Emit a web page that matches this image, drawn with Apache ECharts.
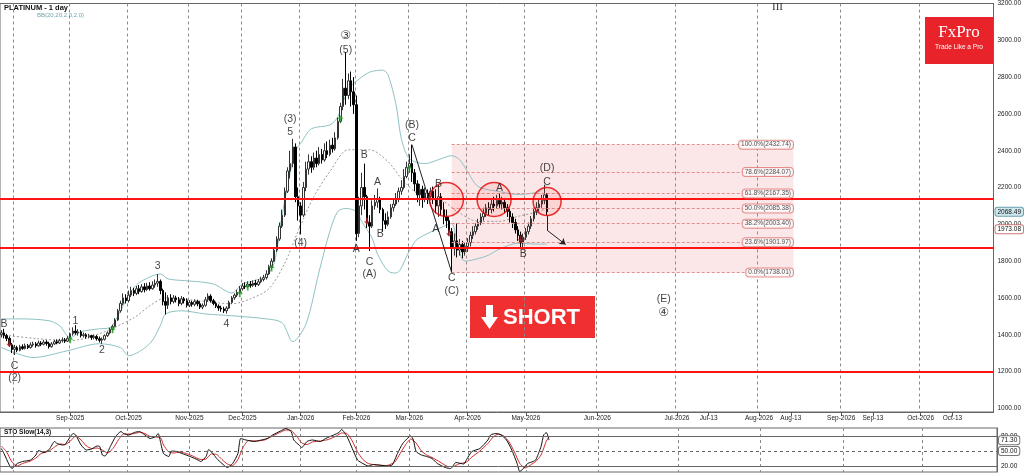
<!DOCTYPE html>
<html><head><meta charset="utf-8">
<script src="https://cdn.jsdelivr.net/npm/echarts@6/dist/echarts.min.js"></script>
<style>html,body{margin:0;padding:0;background:#fff}#c{width:1024px;height:474px}</style>
</head><body><div id="c"></div><script>
// ---------- calendar ----------
const firstBarDate = '2025-07-25', lastBarDate = '2026-05-13', axisEndDate = '2026-10-28';
const holidays = ['2025-12-25', '2026-01-01'];
const gridDates = ['2025-08-01','2025-09-01','2025-10-01','2025-11-03','2025-12-01','2026-01-02','2026-02-02','2026-03-02','2026-04-01','2026-05-01','2026-06-01','2026-07-01','2026-08-01','2026-09-01','2026-10-01'];
const tickDates = ['2025-09-01','2025-10-01','2025-11-03','2025-12-01','2026-01-02','2026-02-02','2026-03-02','2026-04-01','2026-05-01','2026-06-01','2026-07-01','2026-07-13','2026-08-01','2026-08-13','2026-09-01','2026-09-13','2026-10-01','2026-10-13'];
const tickLabels = ['Sep-2025','Oct-2025','Nov-2025','Dec-2025','Jan-2026','Feb-2026','Mar-2026','Apr-2026','May-2026','Jun-2026','Jul-2026','Jul-13','Aug-2026','Aug-13','Sep-2026','Sep-13','Oct-2026','Oct-13'];

// ---------- price bars [open, close, low, high] ----------
const ohlc = [
[1400,1410,1385,1425],[1410,1395,1380,1432],[1395,1380,1365,1405],[1380,1345,1335,1390],[1345,1320,1300,1355],
[1320,1330,1290,1345],[1330,1315,1305,1340],[1315,1335,1310,1345],[1335,1325,1318,1348],[1325,1340,1320,1352],
[1340,1330,1322,1350],[1330,1345,1325,1358],[1345,1350,1335,1362],[1350,1340,1330,1360],[1340,1355,1335,1368],
[1355,1348,1338,1365],[1348,1360,1342,1372],[1360,1352,1340,1370],[1352,1335,1325,1362],[1335,1350,1330,1360],
[1350,1362,1345,1372],[1362,1355,1348,1375],[1355,1368,1350,1378],[1368,1372,1358,1385],[1372,1365,1355,1382],
[1365,1380,1360,1392],[1380,1405,1375,1412],[1405,1420,1395,1440],[1420,1410,1400,1452],[1410,1415,1395,1430],
[1415,1395,1385,1425],[1395,1400,1385,1412],[1400,1390,1378,1408],[1390,1395,1380,1405],[1395,1385,1372,1400],
[1385,1390,1375,1402],[1390,1378,1368,1398],[1378,1370,1358,1390],[1370,1375,1350,1385],[1375,1395,1368,1402],
[1395,1410,1388,1418],[1410,1430,1402,1438],[1430,1445,1420,1455],[1445,1480,1440,1490],[1480,1530,1475,1540],
[1530,1570,1520,1585],[1570,1600,1560,1625],[1600,1585,1570,1620],[1585,1615,1575,1640],[1615,1640,1605,1660],
[1640,1625,1610,1655],[1625,1650,1615,1665],[1650,1635,1620,1670],[1635,1660,1628,1675],[1660,1645,1630,1680],
[1645,1665,1638,1682],[1665,1650,1640,1685],[1650,1670,1645,1690],[1670,1680,1655,1700],[1680,1690,1660,1730],
[1690,1640,1620,1700],[1640,1580,1560,1650],[1580,1560,1510,1630],[1560,1600,1540,1615],[1600,1580,1565,1620],
[1580,1600,1570,1615],[1600,1590,1575,1612],[1590,1570,1555,1605],[1570,1595,1560,1610],[1595,1585,1570,1605],
[1585,1560,1548,1598],[1560,1575,1550,1588],[1575,1565,1552,1585],[1565,1580,1555,1592],[1580,1568,1555,1590],
[1568,1550,1540,1582],[1550,1560,1538,1570],[1560,1590,1552,1605],[1590,1610,1580,1625],[1610,1585,1575,1620],
[1585,1570,1560,1595],[1570,1555,1545,1580],[1555,1545,1530,1565],[1545,1540,1525,1558],[1540,1530,1518,1552],
[1530,1545,1515,1555],[1545,1575,1540,1585],[1575,1600,1568,1610],[1600,1615,1590,1625],[1615,1630,1605,1645],
[1630,1650,1620,1665],[1650,1665,1640,1680],[1665,1660,1648,1685],[1660,1675,1655,1690],[1675,1668,1655,1692],
[1668,1680,1660,1695],[1680,1672,1660,1698],[1672,1688,1665,1702],[1688,1700,1680,1715],[1700,1710,1690,1725],
[1710,1730,1700,1750],[1730,1770,1725,1780],[1770,1800,1755,1815],[1800,1860,1795,1875],[1860,1920,1850,1935],
[1920,1990,1910,2010],[1990,2050,1980,2080],[2050,2180,2040,2200],[2180,2290,2170,2310],[2290,2330,2250,2400],
[2330,2420,2310,2465],[2420,2150,2120,2440],[2150,2100,2020,2200],[2100,2050,1945,2120],[2050,2200,2040,2230],
[2200,2300,2180,2340],[2300,2340,2270,2380],[2340,2310,2280,2370],[2310,2360,2295,2390],[2360,2330,2310,2400],
[2330,2380,2320,2420],[2380,2350,2330,2410],[2350,2400,2340,2440],[2400,2380,2360,2450],[2380,2430,2370,2460],
[2430,2410,2390,2470],[2410,2470,2400,2500],[2470,2560,2460,2580],[2560,2640,2550,2660],[2640,2740,2620,2790],
[2740,2700,2650,2935],[2700,2780,2680,2820],[2780,2720,2640,2830],[2720,2650,2600,2800],[2650,1950,1910,2700],
[1950,2100,1930,2150],[2100,2200,2050,2280],[2200,2150,2080,2330],[2150,2010,1980,2160],[2010,1990,1855,2050],
[1990,2100,1980,2130],[2100,2120,2080,2160],[2120,2140,2090,2195],[2140,2080,2060,2150],[2080,2020,1960,2090],
[2020,2000,1975,2060],[2000,2040,1990,2070],[2040,2090,2030,2110],[2090,2110,2070,2140],[2110,2140,2100,2170],
[2140,2180,2120,2200],[2180,2200,2160,2240],[2200,2260,2190,2300],[2260,2310,2250,2340],[2310,2330,2280,2380],
[2330,2280,2230,2432.74],[2280,2220,2180,2300],[2220,2160,2120,2240],[2160,2190,2100,2220],[2190,2140,2090,2210],
[2140,2170,2120,2200],[2170,2150,2110,2190],[2150,2180,2130,2200],[2180,2140,2110,2205],[2140,2100,2060,2190],
[2100,2150,2040,2215],[2150,2080,2050,2170],[2080,2040,2000,2120],[2040,2020,1980,2080],[2020,1960,1940,2040],
[1960,1870,1738.01,1980],[1870,1910,1830,1950],[1910,1860,1820,2005],[1860,1890,1830,1920],[1890,1850,1815,1910],
[1850,1880,1830,1900],[1880,1900,1850,1925],[1900,1940,1880,1960],[1940,1960,1920,1990],[1960,1990,1945,2005],
[1990,2010,1970,2030],[2010,2040,1995,2060],[2040,2060,2020,2090],[2060,2090,2040,2110],[2090,2080,2050,2120],
[2080,2110,2060,2140],[2110,2100,2070,2150],[2100,2130,2085,2160],[2130,2110,2090,2170],[2110,2120,2080,2150],
[2120,2090,2060,2140],[2090,2070,2040,2110],[2070,2040,2010,2090],[2040,2010,1980,2060],[2010,1970,1950,2030],
[1970,1940,1910,1990],[1940,1900,1870,1960],[1900,1930,1870,1950],[1930,1960,1915,1980],[1960,1990,1945,2010],
[1990,2030,1975,2045],[2030,2070,2015,2090],[2070,2090,2050,2120],[2090,2110,2070,2140],[2110,2130,2090,2160],
[2130,2160,2110,2215],[2160,2068.49,2050,2170]
];

// ---------- Bollinger bands [barIndex, value] ----------
const bbUpper = [[0,1486],[7,1486],[18,1476],[22,1449],[26,1384],[30,1416],[37,1432],[41,1438],[43,1476],[47,1584],[50,1654],[53,1692],[60,1730],[63,1703],[71,1692],[80,1676],[87,1627],[91,1676],[95,1692],[100,1719],[103,1789],[106,2050],[109,2280],[111,2400],[113,2440],[117,2519],[124,2540],[127,2584],[131,2735],[135,2789],[139,2827],[144,2838],[146,2811],[149,2649],[151,2465],[154,2357],[160,2330],[165,2351],[170,2373],[173,2351],[176,2286],[180,2205],[188,2178],[195,2162],[203,2178],[206,2216]];
const bbMiddle = [[0,1400],[3,1395],[14,1378],[26,1368],[37,1405],[50,1492],[56,1557],[62,1600],[75,1584],[87,1568],[94,1595],[101,1650],[107,1789],[112,1962],[118,2151],[124,2286],[131,2405],[139,2405],[146,2340],[151,2249],[156,2178],[161,2140],[167,2124],[172,2070],[180,2016],[188,2016],[195,2043],[203,2070],[206,2092]];
const bbLower = [[0,1330],[6,1297],[12,1276],[25,1313],[37,1351],[45,1330],[48,1286],[56,1351],[60,1449],[62,1513],[68,1530],[77,1513],[87,1503],[100,1486],[106,1465],[110,1362],[115,1459],[120,1746],[124,1962],[127,2070],[130,2086],[134,2070],[136,2016],[140,1924],[142,1838],[146,1746],[149,1735],[154,1854],[157,1919],[167,1989],[170,2005],[172,1908],[175,1800],[183,1827],[188,1865],[195,1897],[203,1892],[206,1892]];

// ---------- Stochastic slow (14,3) [barIndex, value] ----------
const stoK = [[0,55],[1,45],[3,22],[4,15],[6,25],[8,29],[11,32],[13,42],[14,51],[16,47],[18,53],[20,69],[21,65],[23,62],[24,63],[26,79],[27,85],[28,82],[30,62],[32,52],[34,54],[36,60],[37,59],[38,42],[39,40],[41,59],[43,79],[45,89],[46,85],[48,82],[50,87],[52,89],[54,82],[56,75],[58,79],[59,85],[60,65],[61,45],[63,39],[64,50],[66,49],[68,45],[71,39],[74,32],[75,29],[77,39],[78,53],[80,42],[81,35],[83,25],[85,17],[87,25],[89,45],[90,75],[92,72],[95,69],[97,71],[100,75],[102,82],[105,90],[107,95],[109,89],[110,72],[112,62],[113,57],[115,69],[117,72],[120,69],[122,75],[125,82],[127,87],[128,93],[130,79],[132,55],[134,32],[136,25],[138,20],[140,23],[142,22],[145,20],[147,22],[149,45],[151,65],[154,80],[155,72],[156,49],[158,42],[160,39],[162,35],[164,25],[167,17],[169,15],[171,27],[174,24],[175,33],[177,49],[180,55],[183,72],[184,82],[186,85],[188,82],[190,72],[192,52],[194,25],[195,9],[196,13],[198,25],[200,29],[201,32],[203,59],[204,82],[205,87],[206,72]];
const stoD = [[0,60],[2,48],[4,28],[6,20],[8,25],[11,30],[13,36],[15,45],[18,50],[20,58],[22,64],[24,63],[26,70],[28,80],[30,72],[32,60],[34,55],[36,56],[38,52],[40,46],[42,55],[44,72],[46,84],[48,84],[50,85],[52,87],[54,85],[56,79],[58,78],[60,76],[61,62],[63,48],[65,46],[67,48],[69,46],[72,40],[75,33],[77,34],[79,44],[81,43],[83,33],[85,24],[87,21],[89,33],[91,58],[93,71],[96,70],[99,72],[101,77],[104,85],[107,92],[109,91],[111,80],[113,66],[115,63],[117,68],[120,70],[123,73],[126,80],[128,86],[130,85],[132,70],[134,48],[136,33],[138,25],[141,22],[145,21],[148,28],[150,45],[152,62],[154,74],[156,66],[158,50],[160,42],[162,37],[165,28],[168,19],[170,19],[172,24],[175,28],[177,38],[180,50],[183,65],[185,78],[187,84],[189,80],[191,68],[193,48],[195,25],[197,16],[199,22],[201,29],[203,42],[205,70],[206,78]];
const stoLevels = [80, 50, 20];
const stoCurrent = 71.30;

// ---------- annotations ----------
const waveLabels = [[1,1459,'B'],[5,1227,'C'],[5,1162,'(2)'],[28,1476,'1'],[38,1319,'2'],[59,1773,'3'],[85,1459,'4'],[113,1897,'(4)'],[109,2503,'5'],[109,2573,'(3)'],[130,2946,'(5)'],[134,1865,'A'],[137,2378,'B'],[139,1795,'C'],[139,1730,'(A)'],[142,2227,'A'],[143,1946,'B'],[155,2541,'(B)'],[155,2470,'C'],[165,2216,'B'],[164,1973,'A'],[170,1708,'C'],[170,1638,'(C)'],[188,2195,'A'],[197,1838,'B'],[206,2227,'C'],[206,2303,'(D)'],[250,1595,'(E)']];
const circledLabels = [[130,3022,'③'],[250,1519,'④']];
const buySignals = [[26,1373],[42,1427],[90,1622],[93,1659],[102,1762],[128,2573],[154,2303]];
const sellSignals = [[3,1351],[138,2016],[169,1951],[196,1919]];
const circleMarks = [[168,2135],[186,2135],[206,2124]];
const keyLevels = [2138, 1873, 1200];
const lastPrice = 2068.49, secondPrice = 1973.08;
const fibPct = [100, 78.6, 61.8, 50, 38.2, 23.6, 0];
const fibVal = [2432.74, 2284.07, 2167.35, 2085.38, 2003.40, 1901.97, 1738.01];
const fibStartIdx = 170, fibEndIdx = 299;
const waveLine = [[155, 2432.74], [170, 1738.01]];
const arrowPath = [[206, 2050], [206, 1968], [213, 1890]];

// ---------- build categories ----------
function ymd(d){ return d.toISOString().slice(0,10); }
const cats = [];
{
  let d = new Date(firstBarDate + 'T00:00:00Z');
  while (ymd(d) <= lastBarDate) {
    const wd = d.getUTCDay();
    if (wd !== 0 && wd !== 6 && !holidays.includes(ymd(d))) cats.push(ymd(d));
    d.setUTCDate(d.getUTCDate() + 1);
  }
  while (ymd(d) <= axisEndDate) { cats.push(ymd(d)); d.setUTCDate(d.getUTCDate() + 1); }
}
const gridIdx = new Set(gridDates.map(s => cats.indexOf(s)));
const labelIdx = new Map(tickDates.map((s, i) => [cats.indexOf(s), tickLabels[i]]));

const FONT = '"Liberation Sans", Arial, sans-serif';
const CLEAR = 'rgba(0,0,0,0)';
const chart = echarts.init(document.getElementById('c'), null, {renderer: 'canvas', width: 1024, height: 474});

const vSplit = {show: true, interval: (i) => gridIdx.has(i), lineStyle: {color: '#8a8a8a', type: [3, 3], width: 1}};
const tagLabel = (txt, bg, bc) => ({show: true, position: 'end', distance: 2, formatter: txt, fontSize: 6.5, fontFamily: FONT, color: '#111', backgroundColor: bg || CLEAR, borderColor: bc || CLEAR, borderWidth: bc ? 1 : 0, borderRadius: 2, padding: [1, 2, 0, 2]});
const hiddenLine = {color: CLEAR, width: 1, type: 'solid'};

const option = {
  animation: false,
  backgroundColor: '#fff',
  grid: [
    {left: 0, top: 1, width: 997, height: 411, show: true, borderColor: '#666', borderWidth: 1},
    {left: 0, top: 428, width: 997, height: 44, show: true, borderColor: '#666', borderWidth: 1}
  ],
  xAxis: [
    {type: 'category', data: cats, gridIndex: 0, boundaryGap: true,
     axisLine: {show: true, lineStyle: {color: '#666'}},
     axisTick: {show: true, interval: (i) => labelIdx.has(i), alignWithLabel: true, length: 4, lineStyle: {color: '#555'}},
     axisLabel: {show: true, interval: (i) => labelIdx.has(i), formatter: (v, i) => labelIdx.get(i) || '', fontSize: 6.5, color: '#222', margin: 3, fontFamily: FONT},
     splitLine: vSplit},
    {type: 'category', data: cats, gridIndex: 1, boundaryGap: true,
     axisLine: {show: false}, axisTick: {show: false}, axisLabel: {show: false}, splitLine: vSplit}
  ],
  yAxis: [
    {type: 'value', gridIndex: 0, position: 'right', min: 980, max: 3200, interval: 20,
     axisLine: {show: true, lineStyle: {color: '#666'}}, axisTick: {show: false}, splitLine: {show: false},
     axisLabel: {formatter: v => (Math.abs(v % 200) < 1e-6 && v >= 1000) ? v.toFixed(2) : '', fontSize: 6.5, color: '#222', margin: 4, fontFamily: FONT}},
    {type: 'value', gridIndex: 1, position: 'right', min: 8, max: 96,
     axisLine: {show: true, lineStyle: {color: '#666'}}, axisTick: {show: false}, axisLabel: {show: false}, splitLine: {show: false}}
  ],
  series: [
    {type: 'line', name: 'bbU', data: bbUpper, xAxisIndex: 0, yAxisIndex: 0, symbol: 'none', smooth: 0.3,
     lineStyle: {color: '#8fc2c4', width: 1}, z: 1,
     markArea: {silent: true, itemStyle: {color: 'rgba(232,120,120,0.18)'},
       data: [[{coord: [fibStartIdx, fibVal[0]]}, {coord: [fibEndIdx, fibVal[fibVal.length - 1]]}]]},
     markLine: {silent: true, symbol: 'none', label: {show: false}, lineStyle: {color: '#e09090', type: [3, 2], width: 1},
       data: fibVal.map(v => [{coord: [fibStartIdx, v]}, {coord: [fibEndIdx, v]}])}},
    {type: 'line', name: 'bbM', data: bbMiddle, xAxisIndex: 0, yAxisIndex: 0, symbol: 'none', smooth: 0.3,
     lineStyle: {color: '#9a9a9a', width: 1, type: [2, 2]}, z: 1},
    {type: 'line', name: 'bbL', data: bbLower, xAxisIndex: 0, yAxisIndex: 0, symbol: 'none', smooth: 0.3,
     lineStyle: {color: '#8fc2c4', width: 1}, z: 1},
    {type: 'candlestick', name: 'price', data: ohlc, xAxisIndex: 0, yAxisIndex: 0, barWidth: 2,
     itemStyle: {color: '#ffffff', color0: '#000000', borderColor: '#333333', borderColor0: '#000000', borderWidth: 1}, z: 3,
     markLine: {silent: true, symbol: 'none', animation: false,
       data: [
         ...keyLevels.map(v => ({yAxis: v, lineStyle: {color: '#ff1414', width: 2, type: 'solid'}, label: {show: false}})),
         {yAxis: lastPrice, lineStyle: hiddenLine, label: tagLabel('2068.49', '#cfe7ee', '#6a9fac')},
         {yAxis: secondPrice, lineStyle: hiddenLine, label: tagLabel('1973.08', '#ffffff', '#c77')},
         [{coord: waveLine[0]}, {coord: waveLine[1]}],
         [{coord: arrowPath[0]}, {coord: arrowPath[1]}],
         [{coord: arrowPath[1], symbol: 'none'}, {coord: arrowPath[2], symbol: 'arrow', symbolSize: 6}]
       ],
       lineStyle: {color: '#222', width: 1, type: 'solid'}, label: {show: false}}},
    {type: 'scatter', name: 'fibLabels', xAxisIndex: 0, yAxisIndex: 0, z: 6,
     data: fibVal.map((v, i) => [fibEndIdx, v, fibPct[i].toFixed(1) + '%(' + v.toFixed(2) + ')']),
     symbolSize: 1, itemStyle: {color: CLEAR},
     label: {show: true, position: 'left', distance: 0, formatter: p => p.data[2], fontSize: 6.5, fontFamily: FONT, color: '#222',
       backgroundColor: '#fff', borderColor: '#d77', borderWidth: 1, borderRadius: 3, padding: [1, 2, 0, 2]}},
    {type: 'scatter', name: 'circles', xAxisIndex: 0, yAxisIndex: 0, z: 5, data: circleMarks,
     symbol: 'circle', symbolSize: (v, p) => p.dataIndex === 2 ? 28 : 34,
     itemStyle: {color: 'rgba(255,40,40,0.12)', borderColor: '#e60000', borderWidth: 1.5}},
    {type: 'scatter', name: 'buy', xAxisIndex: 0, yAxisIndex: 0, z: 6, data: buySignals,
     symbol: 'path://M5,0 L10,5 L6.5,5 L6.5,10 L3.5,10 L3.5,5 L0,5 Z', symbolSize: [6, 7], itemStyle: {color: '#1f9a1f'}},
    {type: 'scatter', name: 'sell', xAxisIndex: 0, yAxisIndex: 0, z: 6, data: sellSignals,
     symbol: 'path://M5,0 L10,5 L6.5,5 L6.5,10 L3.5,10 L3.5,5 L0,5 Z', symbolRotate: 180, symbolSize: [6, 7], itemStyle: {color: '#b3262a'}},
    {type: 'scatter', name: 'waves', xAxisIndex: 0, yAxisIndex: 0, z: 7, data: waveLabels,
     symbolSize: 1, itemStyle: {color: CLEAR},
     label: {show: true, position: 'inside', formatter: p => p.data[2], fontSize: 10.5, fontFamily: FONT, color: '#111'}},
    {type: 'scatter', name: 'circled', xAxisIndex: 0, yAxisIndex: 0, z: 7, data: circledLabels,
     symbolSize: 1, itemStyle: {color: CLEAR},
     label: {show: true, position: 'inside', formatter: p => p.data[2], fontSize: 12, fontFamily: '"DejaVu Sans", "Noto Sans CJK JP", sans-serif', color: '#111'}},
    {type: 'line', name: 'stoD', data: stoD, xAxisIndex: 1, yAxisIndex: 1, symbol: 'none', smooth: 0.2,
     lineStyle: {color: '#d42a2a', width: 1}, z: 2},
    {type: 'line', name: 'stoK', data: stoK, xAxisIndex: 1, yAxisIndex: 1, symbol: 'none', smooth: 0.2,
     lineStyle: {color: '#111', width: 1}, z: 3,
     markLine: {silent: true, symbol: 'none', animation: false,
       data: [
         {yAxis: stoLevels[0], lineStyle: {color: '#666', width: 1, type: 'solid'}, label: tagLabel('80.00', null, null)},
         {yAxis: stoCurrent, lineStyle: hiddenLine, label: tagLabel('71.30', '#fff', '#777')},
         {yAxis: stoLevels[1], lineStyle: {color: '#666', width: 1, type: [3, 3]}, label: tagLabel('50.00', '#fff', '#777')},
         {yAxis: stoLevels[2], lineStyle: {color: '#666', width: 1, type: 'solid'}, label: tagLabel('20.00', null, null)}
       ]}}
  ],
  graphic: [
    {type: 'text', left: 4, top: 4, style: {text: 'PLATINUM - 1 day', font: 'bold 7.5px ' + FONT, fill: '#111'}},
    {type: 'text', left: 37, top: 12, style: {text: 'BB(20,20,2.0,2.0)', font: '6px ' + FONT, fill: '#6fa4a8'}},
    {type: 'text', left: 772, top: 2, style: {text: 'III', font: '11px "Liberation Serif", serif', fill: '#333'}},
    {type: 'rect', shape: {x: 925, y: 17, width: 68, height: 47}, style: {fill: '#e8232a'}},
    {type: 'text', x: 959, y: 33, style: {text: 'FxPro', font: '17px "Liberation Serif", serif', fill: '#fff', align: 'center', verticalAlign: 'middle'}},
    {type: 'text', x: 959, y: 47, style: {text: 'Trade Like a Pro', font: '6.5px ' + FONT, fill: '#fff', align: 'center', verticalAlign: 'middle'}},
    {type: 'rect', shape: {x: 470, y: 296, width: 125, height: 42}, style: {fill: '#f03030'}},
    {type: 'polygon', shape: {points: [[486, 305], [493, 305], [493, 317], [498, 317], [489.5, 329], [481, 317], [486, 317]]}, style: {fill: '#fff'}},
    {type: 'text', x: 503, y: 318, style: {text: 'SHORT', font: 'bold 22px ' + FONT, fill: '#fff', verticalAlign: 'middle'}},
    {type: 'text', left: 4, top: 429, style: {text: 'STO Slow(14,3)', font: 'bold 6.5px ' + FONT, fill: '#111'}}
  ]
};
chart.setOption(option);
</script></body></html>
